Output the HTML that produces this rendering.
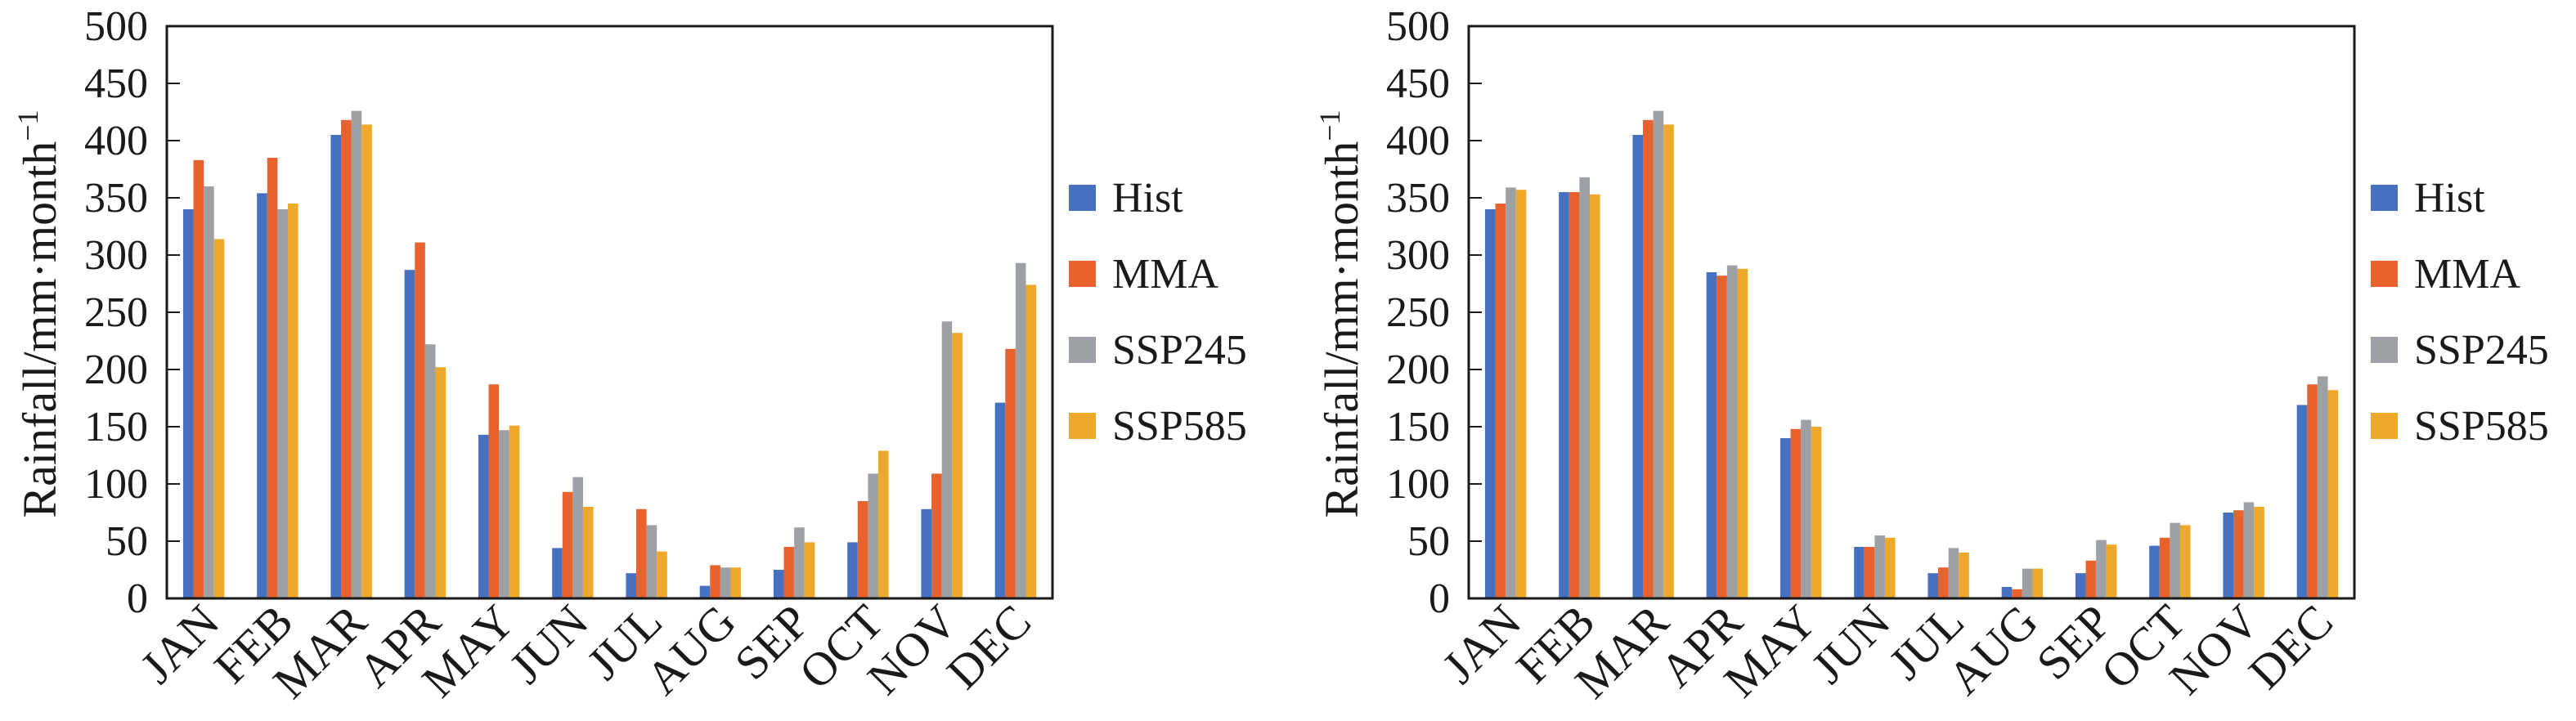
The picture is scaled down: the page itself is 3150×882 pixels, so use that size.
<!DOCTYPE html>
<html><head><meta charset="utf-8"><style>
html,body{margin:0;padding:0;background:#fff;}
svg{display:block;}
text{font-family:"Liberation Serif",serif;fill:#1a1a1a;}
</style></head><body>
<svg id="s" width="3150" height="882" xmlns="http://www.w3.org/2000/svg"></svg>
<script>
const NS="http://www.w3.org/2000/svg";
const s=document.getElementById('s');
function el(t,a,txt){const e=document.createElementNS(NS,t);for(const k in a)e.setAttribute(k,a[k]);if(txt!==undefined)e.textContent=txt;s.appendChild(e);return e;}
const cols=["#4670C0","#E8622E","#9DA1A6","#EEA82A"];
const names=["Hist","MMA","SSP245","SSP585"];
const months=["JAN","FEB","MAR","APR","MAY","JUN","JUL","AUG","SEP","OCT","NOV","DEC"];
const d1=[[340,383,360,314],[354,385,340,345],[405,418,426,414],[287,311,222,202],[143,187,147,151],[44,93,106,80],[22,78,64,41],[11,29,27,27],[25,45,62,49],[49,85,109,129],[78,109,242,232],[171,218,293,274]];
const d2=[[340,345,359,357],[355,355,368,353],[405,418,426,414],[285,282,291,288],[140,148,156,150],[45,45,55,53],[22,27,44,40],[10,8,26,26],[22,33,51,47],[46,53,66,64],[75,77,84,80],[169,187,194,182]];
function chart(L,data){
  const R=L+1083,T=32,B=732,k=1.4,gw=1083/12,bw=12.6;
  for(let i=0;i<12;i++){
    const c=L+gw*(i+0.5);
    for(let j=0;j<4;j++){
      const h=data[i][j]*k;
      el('rect',{x:c-2*bw+j*bw,y:B-h,width:bw,height:h,fill:cols[j]});
    }
    el('text',{x:0,y:0,'font-size':58,'text-anchor':'end',transform:`translate(${c+22},${764}) rotate(-45)`},months[i]);
  }
  el('rect',{x:L,y:T,width:1083,height:B-T,fill:'none',stroke:'#1a1a1a','stroke-width':3});
  for(let v=0;v<=500;v+=50){
    const y=B-v*k;
    if(v>0&&v<500)el('line',{x1:L,x2:L+16,y1:y,y2:y,stroke:'#1a1a1a','stroke-width':2});
    el('text',{x:L-23,y:y+17,'font-size':52,'text-anchor':'end'},String(v));
  }
  const t=el('text',{x:0,y:0,'font-size':58,'text-anchor':'middle',transform:`translate(${L-136},384) rotate(-90)`});
  t.innerHTML='Rainfall/mm·month<tspan dy="-22" font-size="36">−1</tspan>';
  for(let j=0;j<4;j++){
    const y=226+93*j;
    el('rect',{x:R+20,y:y,width:33,height:32,fill:cols[j]});
    el('text',{x:R+73,y:y+33,'font-size':52},names[j]);
  }
}
chart(204,d1);
chart(1796,d2);
</script>
</body></html>
